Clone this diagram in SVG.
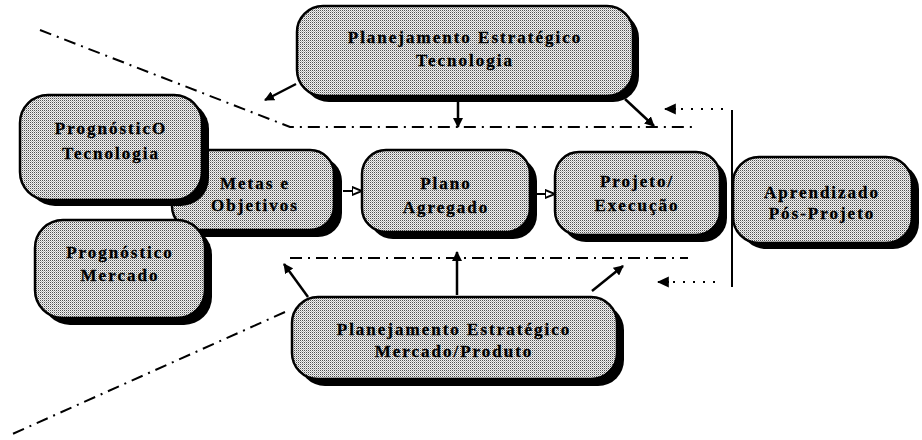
<svg xmlns="http://www.w3.org/2000/svg" width="922" height="440" viewBox="0 0 922 440">
<defs>
<pattern id="dots" width="2" height="2" patternUnits="userSpaceOnUse">
<rect width="2" height="2" fill="#f2f2f2"/>
<rect x="0" y="0" width="1" height="1" fill="#505050"/>
<rect x="1" y="1" width="1" height="1" fill="#b4b4b4"/>
</pattern>
<marker id="ah" viewBox="0 0 10 10" refX="9" refY="5" markerWidth="4" markerHeight="4" orient="auto" markerUnits="strokeWidth">
<path d="M0,0 L10,5 L0,10 z" fill="#000"/>
</marker>
<marker id="ah2" viewBox="0 0 10 10" refX="9" refY="5" markerWidth="5" markerHeight="5" orient="auto" markerUnits="strokeWidth">
<path d="M0,1 L10,5 L0,9 z" fill="#fff" stroke="#000" stroke-width="2"/>
</marker>
<marker id="ah3" viewBox="0 0 10 10" refX="9" refY="5" markerWidth="6" markerHeight="6" orient="auto" markerUnits="strokeWidth">
<path d="M0,0.5 L10,5 L0,9.5 z" fill="#000"/>
</marker>
</defs>
<style>
.sh{fill:#000}
.bx{fill:url(#dots);stroke:#000;stroke-width:2.5}
.t{font-family:"Liberation Serif","Times New Roman",serif;font-weight:bold;font-size:17px;letter-spacing:2px;text-anchor:middle;fill:#000;stroke:#000;stroke-width:0.3}
.dd{fill:none;stroke:#000;stroke-width:2;stroke-dasharray:12 6 2 6}
.ar{fill:none;stroke:#000;stroke-width:2.5;marker-end:url(#ah)}
.dt{fill:none;stroke:#000;stroke-width:2;stroke-dasharray:2 8}
</style>
<rect width="922" height="440" fill="#fff"/>
<g id="connectors">
<polyline class="dd" points="40,30 290,127 695,127"/>
<polyline class="dd" points="290,258 688,258"/>
<line class="dd" x1="285" y1="312" x2="8" y2="436"/>
<line x1="732" y1="110" x2="732" y2="287" stroke="#000" stroke-width="2"/>
<line class="ar" x1="296" y1="84" x2="265" y2="100"/>
<line class="ar" x1="458" y1="100" x2="458" y2="127"/>
<line class="ar" x1="625" y1="99" x2="654" y2="126"/>
<line class="dt" x1="723" y1="109" x2="680" y2="109"/>
<path d="M676,109 L665,109" stroke="#000" stroke-width="2" marker-end="url(#ah3)"/>
<line class="dt" x1="715" y1="282" x2="672" y2="282"/>
<path d="M669,282 L658,282" stroke="#000" stroke-width="2" marker-end="url(#ah3)"/>
<line class="ar" x1="308" y1="297" x2="284" y2="264"/>
<line class="ar" x1="457" y1="295" x2="457" y2="252"/>
<line class="ar" x1="592" y1="291" x2="623" y2="266"/>
<path d="M343,191 L361,191" stroke="#000" stroke-width="2" marker-end="url(#ah2)"/>
<path d="M537,194 L554,194" stroke="#000" stroke-width="2" marker-end="url(#ah2)"/>
</g>
<g id="planejamento-tecnologia">
<rect class="sh" x="303" y="12" width="336" height="90" rx="26"/>
<rect class="bx" x="297" y="6" width="336" height="90" rx="26"/>
<text class="t" x="465" y="43">Planejamento Estratégico</text>
<text class="t" x="465" y="66">Tecnologia</text>
</g>
<g id="metas">
<rect class="sh" x="180" y="157" width="162" height="80" rx="24"/>
<rect class="bx" x="172" y="150" width="162" height="80" rx="24"/>
<text class="t" x="255" y="189">Metas e</text>
<text class="t" x="255" y="211">Objetivos</text>
</g>
<g id="prognostico-tecnologia">
<rect class="sh" x="27" y="101" width="182" height="105" rx="28"/>
<rect class="bx" x="20" y="95" width="182" height="105" rx="28"/>
<text class="t" x="111" y="134">PrognósticO</text>
<text class="t" x="111" y="159">Tecnologia</text>
</g>
<g id="prognostico-mercado">
<rect class="sh" x="42" y="227" width="170" height="98" rx="28"/>
<rect class="bx" x="35" y="220" width="170" height="98" rx="28"/>
<text class="t" x="120" y="258">Prognóstico</text>
<text class="t" x="120" y="281">Mercado</text>
</g>
<g id="plano">
<rect class="sh" x="369" y="157" width="168" height="82" rx="24"/>
<rect class="bx" x="362" y="150" width="168" height="82" rx="24"/>
<text class="t" x="446" y="189">Plano</text>
<text class="t" x="446" y="213">Agregado</text>
</g>
<g id="projeto">
<rect class="sh" x="562" y="159" width="165" height="83" rx="24"/>
<rect class="bx" x="555" y="152" width="165" height="83" rx="24"/>
<text class="t" x="637" y="187">Projeto/</text>
<text class="t" x="637" y="211">Execução</text>
</g>
<g id="aprendizado">
<rect class="sh" x="740" y="163" width="179" height="86" rx="26"/>
<rect class="bx" x="733" y="157" width="179" height="86" rx="26"/>
<text class="t" x="822" y="198">Aprendizado</text>
<text class="t" x="822" y="219">Pós-Projeto</text>
</g>
<g id="planejamento-mercado">
<rect class="sh" x="299" y="304" width="325" height="82" rx="26"/>
<rect class="bx" x="292" y="297" width="325" height="82" rx="26"/>
<text class="t" x="454" y="335">Planejamento Estratégico</text>
<text class="t" x="454" y="357">Mercado/Produto</text>
</g>
</svg>
